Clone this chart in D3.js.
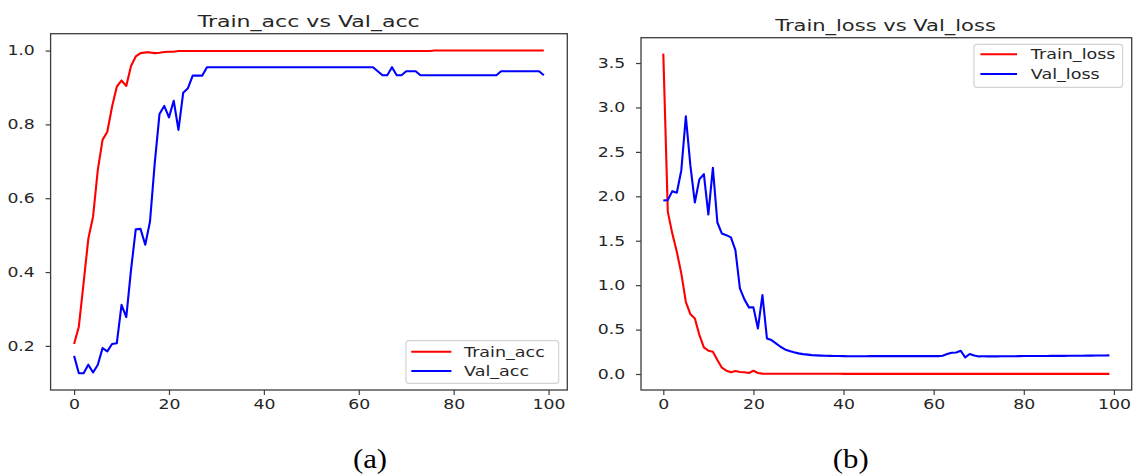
<!DOCTYPE html>
<html>
<head>
<meta charset="utf-8">
<script src="https://cdn.jsdelivr.net/npm/d3@7"></script>
<style>
  html, body { margin: 0; padding: 0; background: #fff; }
  svg { display: block; }
  text { font-family: "DejaVu Sans", sans-serif; fill: #262626; }
</style>
</head>
<body>
<svg id="chart" width="1137" height="476"></svg>
<script>
// ---------------- data ----------------
const epochs = Array.from({length: 100}, (_, i) => i);

const trainAcc = [
  0.205, 0.252, 0.370, 0.490, 0.550, 0.677, 0.758, 0.780, 0.848, 0.902,
  0.919, 0.904, 0.958, 0.984, 0.993, 0.995, 0.995, 0.993, 0.994, 0.996,
  0.997, 0.997, 0.999, 0.999, 0.999, 0.999, 0.999, 0.999, 0.999, 0.999,
  0.999, 0.999, 0.999, 0.999, 0.999, 0.999, 0.999, 0.999, 0.999, 0.999,
  0.999, 0.999, 0.999, 0.999, 0.999, 0.999, 0.999, 0.999, 0.999, 0.999,
  0.999, 0.999, 0.999, 0.999, 0.999, 0.999, 0.999, 0.999, 0.999, 0.999,
  0.999, 0.999, 0.999, 0.999, 0.999, 0.999, 0.999, 0.999, 0.999, 0.999,
  0.999, 0.999, 0.999, 0.999, 0.999, 0.999, 1.000, 1.000, 1.000, 1.000,
  1.000, 1.000, 1.000, 1.000, 1.000, 1.000, 1.000, 1.000, 1.000, 1.000,
  1.000, 1.000, 1.000, 1.000, 1.000, 1.000, 1.000, 1.000, 1.000, 1.000
];

const valAcc = [
  0.173, 0.126, 0.126, 0.149, 0.128, 0.149, 0.194, 0.185, 0.205, 0.207,
  0.311, 0.278, 0.406, 0.516, 0.517, 0.474, 0.537, 0.695, 0.828, 0.850,
  0.819, 0.864, 0.785, 0.886, 0.898, 0.932, 0.932, 0.932, 0.955, 0.955,
  0.955, 0.955, 0.955, 0.955, 0.955, 0.955, 0.955, 0.955, 0.955, 0.955,
  0.955, 0.955, 0.955, 0.955, 0.955, 0.955, 0.955, 0.955, 0.955, 0.955,
  0.955, 0.955, 0.955, 0.955, 0.955, 0.955, 0.955, 0.955, 0.955, 0.955,
  0.955, 0.955, 0.955, 0.955, 0.944, 0.933, 0.933, 0.955, 0.933, 0.933,
  0.944, 0.944, 0.944, 0.933, 0.933, 0.933, 0.933, 0.933, 0.933, 0.933,
  0.933, 0.933, 0.933, 0.933, 0.933, 0.933, 0.933, 0.933, 0.933, 0.933,
  0.944, 0.944, 0.944, 0.944, 0.944, 0.944, 0.944, 0.944, 0.944, 0.933
];

const trainLoss = [
  3.606, 1.825, 1.580, 1.375, 1.130, 0.813, 0.675, 0.626, 0.440, 0.300,
  0.262, 0.251, 0.157, 0.071, 0.037, 0.019, 0.034, 0.022, 0.019, 0.011,
  0.037, 0.011, 0.004, 0.003, 0.003, 0.003, 0.003, 0.003, 0.003, 0.003,
  0.003, 0.003, 0.003, 0.003, 0.003, 0.003, 0.003, 0.003, 0.003, 0.003,
  0.002, 0.002, 0.002, 0.002, 0.002, 0.002, 0.002, 0.002, 0.002, 0.002,
  0.002, 0.002, 0.002, 0.002, 0.002, 0.002, 0.002, 0.002, 0.002, 0.002,
  0.002, 0.002, 0.002, 0.002, 0.002, 0.002, 0.002, 0.002, 0.002, 0.002,
  0.002, 0.002, 0.002, 0.002, 0.002, 0.002, 0.002, 0.002, 0.002, 0.002,
  0.002, 0.002, 0.002, 0.002, 0.002, 0.002, 0.002, 0.002, 0.002, 0.002,
  0.002, 0.002, 0.002, 0.002, 0.002, 0.002, 0.002, 0.002, 0.002, 0.002
];

const valLoss = [
  1.953, 1.957, 2.058, 2.040, 2.294, 2.900, 2.350, 1.930, 2.190, 2.250,
  1.795, 2.320, 1.705, 1.580, 1.563, 1.537, 1.394, 0.963, 0.840, 0.750,
  0.750, 0.513, 0.888, 0.400, 0.382, 0.345, 0.307, 0.277, 0.259, 0.244,
  0.232, 0.224, 0.218, 0.213, 0.210, 0.207, 0.205, 0.204, 0.203, 0.202,
  0.201, 0.200, 0.200, 0.200, 0.200, 0.200, 0.201, 0.201, 0.201, 0.201,
  0.201, 0.201, 0.201, 0.201, 0.201, 0.201, 0.201, 0.201, 0.201, 0.201,
  0.201, 0.201, 0.205, 0.225, 0.240, 0.242, 0.262, 0.187, 0.225, 0.208,
  0.198, 0.199, 0.199, 0.199, 0.199, 0.200, 0.200, 0.200, 0.200, 0.201,
  0.202, 0.202, 0.203, 0.203, 0.203, 0.203, 0.204, 0.204, 0.204, 0.204,
  0.205, 0.205, 0.206, 0.206, 0.207, 0.207, 0.208, 0.208, 0.209, 0.210
];

const xTicks = [0, 20, 40, 60, 80, 100];
const accTicks = [0.2, 0.4, 0.6, 0.8, 1.0];
const lossTicks = [0.0, 0.5, 1.0, 1.5, 2.0, 2.5, 3.0, 3.5];

const titles = ["Train_acc vs Val_acc", "Train_loss vs Val_loss"];
const accLabels = ["Train_acc", "Val_acc"];
const lossLabels = ["Train_loss", "Val_loss"];
const captions = ["(a)", "(b)"];
const seriesColors = ["#ff0000", "#0000ff"];

// ---------------- drawing ----------------
const svg = d3.select("#chart");
const SX = 1.28;       // horizontal stretch of the original raster text
const AXIS = "#3d3d3d";

function panel(cfg) {
  const x = d3.scaleLinear().domain([-4.95, 103.95]).range([cfg.left, cfg.right]);
  const y = d3.scaleLinear().domain(cfg.yDomain).range([cfg.bottom, cfg.top]);
  const g = svg.append("g");

  // lines
  const line = d3.line().x((d, i) => x(epochs[i])).y(d => y(d));
  cfg.series.forEach((s, k) => {
    g.append("path").datum(s)
      .attr("d", line)
      .attr("fill", "none")
      .attr("stroke", seriesColors[k])
      .attr("stroke-width", 2.1)
      .attr("stroke-linejoin", "round");
  });

  // frame
  g.append("rect")
    .attr("x", cfg.left).attr("y", cfg.top)
    .attr("width", cfg.right - cfg.left).attr("height", cfg.bottom - cfg.top)
    .attr("fill", "none").attr("stroke", AXIS).attr("stroke-width", 1.3);

  // axes
  const xa = g.append("g").attr("transform", `translate(0,${cfg.bottom})`)
    .call(d3.axisBottom(x).tickValues(xTicks).tickFormat(d3.format("d")).tickSize(5).tickPadding(4.3));
  const ya = g.append("g").attr("transform", `translate(${cfg.left},0)`)
    .call(d3.axisLeft(y).tickValues(cfg.yTicks).tickFormat(d3.format(".1f")).tickSize(5).tickPadding(7.3));
  [xa, ya].forEach(a => {
    a.select(".domain").remove();
    a.selectAll(".tick line").attr("stroke", AXIS).attr("stroke-width", 1.2);
    a.selectAll(".tick text")
      .attr("fill", "#262626")
      .style("font-family", '"DejaVu Sans", sans-serif')
      .style("font-size", "13.5px")
      .attr("transform", `scale(${SX},1)`);
  });

  // title
  svg.append("text")
    .attr("x", cfg.titleX).attr("y", cfg.titleY)
    .attr("text-anchor", "middle")
    .attr("textLength", cfg.titleW).attr("lengthAdjust", "spacingAndGlyphs")
    .style("font-size", "16px")
    .text(cfg.title);

  // legend
  const L = cfg.legend;
  svg.append("rect")
    .attr("x", L.x0).attr("y", L.y0)
    .attr("width", L.x1 - L.x0).attr("height", L.y1 - L.y0)
    .attr("rx", 3).attr("ry", 3)
    .attr("fill", "#fff").attr("fill-opacity", 0.85)
    .attr("stroke", "#d4d4d4").attr("stroke-width", 1.2);
  cfg.labels.forEach((lab, k) => {
    const yy = L.rows[k];
    svg.append("line")
      .attr("x1", L.lx0).attr("x2", L.lx1).attr("y1", yy).attr("y2", yy)
      .attr("stroke", seriesColors[k]).attr("stroke-width", 2.1);
    svg.append("text")
      .attr("transform", `translate(${L.tx},${yy}) scale(${SX + 0.02},1)`)
      .attr("dy", "0.36em")
      .style("font-size", "13.5px")
      .text(lab);
  });

  // caption
  svg.append("text")
    .attr("transform", `translate(${cfg.capX},468) scale(1.1,1)`)
    .attr("text-anchor", "middle")
    .style("font-family", '"Liberation Serif", "Times New Roman", serif')
    .style("font-size", "28px")
    .style("fill", "#000")
    .text(cfg.caption);
}

panel({
  left: 50.6, right: 567.3, top: 33.7, bottom: 390,
  yDomain: [0.0805, 1.0457], yTicks: accTicks,
  series: [trainAcc, valAcc], labels: accLabels,
  title: titles[0], titleX: 308.7, titleY: 26.5, titleW: 222,
  legend: {x0: 405.9, x1: 558.7, y0: 340.7, y1: 383.3, lx0: 411.3, lx1: 451.4, tx: 464, rows: [351.7, 371]},
  caption: captions[0], capX: 370
});

panel({
  left: 641, right: 1131.7, top: 37.7, bottom: 390,
  yDomain: [-0.18, 3.785], yTicks: lossTicks,
  series: [trainLoss, valLoss], labels: lossLabels,
  title: titles[1], titleX: 885.5, titleY: 30.5, titleW: 220.7,
  legend: {x0: 973.9, x1: 1122.6, y0: 44.3, y1: 87.3, lx0: 980.4, lx1: 1017.1, tx: 1030.8, rows: [54.3, 74]},
  caption: captions[1], capX: 850.8
});
</script>
</body>
</html>
